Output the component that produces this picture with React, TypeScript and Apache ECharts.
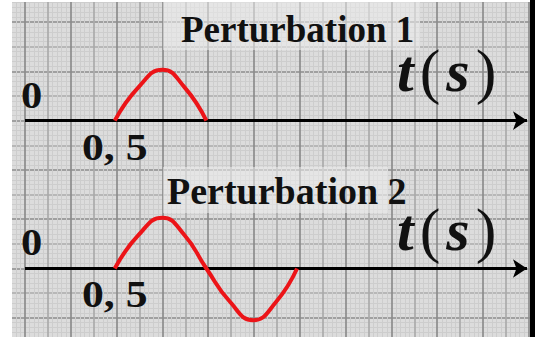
import React, { useEffect, useRef } from "react";
import * as echarts from "echarts";

// ---- data (time in seconds, amplitude in grid units) ----
const axisOffsets = [3, 0]; // vertical position of each perturbation's time axis
const axisEnd = 2.74;
const restEnd = 2.6;
const p1Times = [0.49, 0.62, 0.75, 0.87, 0.99];
const p1Values = [0, 0.68, 1.03, 0.68, 0];
const p2Times = [0.49, 0.62, 0.75, 0.87, 0.99, 1.12, 1.245, 1.37, 1.485];
const p2Values = [0, 0.68, 1.03, 0.68, 0, -0.68, -1.05, -0.68, 0];
const titles = ["Perturbation 1", "Perturbation 2"];
const originLabel = "0";
const tickLabel = "0, 5";

const CURVE = "#ec1418";
const MAROON = "#5e0c0c";

// the chart div is shifted so that the graph-paper grid extends past the page edges
const OX = 21;
const OY = 3;

function buildSeries(): any[] {
  const curves = [
    { t: p1Times, v: p1Values },
    { t: p2Times, v: p2Values },
  ];
  const out: any[] = [];
  curves.forEach((c, k) => {
    const o = axisOffsets[k];
    const start = c.t[0];
    const end = c.t[c.t.length - 1];
    out.push({
      type: "lines",
      coordinateSystem: "cartesian2d",
      z: 3,
      symbol: ["none", "arrow"],
      symbolSize: 14,
      lineStyle: { color: "#000", width: 3, opacity: 1 },
      data: [{ coords: [[0, o], [axisEnd, o]] }],
    });
    [[0, start], [end, restEnd]].forEach((seg) => {
      out.push({
        type: "line",
        z: 4,
        symbol: "none",
        lineStyle: {
          color: MAROON,
          width: 3.5,
          shadowColor: "rgba(240,110,110,0.55)",
          shadowOffsetY: 3,
          shadowBlur: 2,
        },
        data: seg.map((x) => [x, o]),
      });
    });
    out.push({
      type: "line",
      z: 5,
      smooth: 0.5,
      symbol: "none",
      lineStyle: { color: CURVE, width: 4 },
      data: c.t.map((x, i) => [x, c.v[i] + o]),
    });
  });
  return out;
}

function App() {
  const ref = useRef<HTMLDivElement>(null);
  useEffect(() => {
    if (!ref.current) return;
    const chart = echarts.init(ref.current, null, { renderer: "svg" });
    const serif = "'Liberation Serif', 'Times New Roman', serif";
    const txt = (text: string, x: number, y: number, size: number, sx = 1) => ({
      type: "text",
      x: x + OX,
      y: y + OY,
      scaleX: sx,
      z: 100,
      style: {
        text,
        fontFamily: serif,
        fontWeight: "bold",
        fontSize: size,
        lineHeight: Math.round(size * 0.75),
        fill: "#111",
        verticalAlign: "middle",
        align: "left",
      },
    });
    const letter = { fontFamily: serif, fontStyle: "italic", fontWeight: "bold", fontSize: 60, lineHeight: 44, fill: "#111", padding: [0, 3, 0, 3] };
    const paren = { fontFamily: serif, fontWeight: "normal", fontSize: 62, lineHeight: 44, fill: "#111", padding: [0, 3, 0, 3] };
    const unit = (x: number, y: number) => ({
      type: "text",
      x: x + OX,
      y: y + OY,
      z: 100,
      style: {
        text: "{t|t}{p|(}{t|s}{p|)}",
        verticalAlign: "middle",
        align: "left",
        rich: { t: letter, p: paren },
      },
    });
    const rect = (x: number, y: number, w: number, h: number, fill: string, z: number) => ({
      type: "rect",
      z,
      shape: { x: x + OX, y: y + OY, width: w, height: h },
      style: { fill },
    });
    chart.setOption({
      animation: false,
      backgroundColor: "#dcdcdc",
      grid: { left: 0.2, right: 0.3, top: 0.35, bottom: 0.55, containLabel: false },
      xAxis: {
        type: "value",
        min: -0.25,
        max: 2.875,
        interval: 0.125,
        axisLine: { show: false },
        axisTick: { show: false },
        axisLabel: { show: false },
        splitLine: { show: true, lineStyle: { color: ["#8c8c8c", "#ababab"], width: 1.7 } },
        minorTick: { show: false, splitNumber: 5 },
        minorSplitLine: { show: true, lineStyle: { color: "#cdcdcd", width: 1 } },
      },
      yAxis: {
        type: "value",
        min: -1.5,
        max: 5.5,
        interval: 0.5,
        axisLine: { show: false },
        axisTick: { show: false },
        axisLabel: { show: false },
        splitLine: { show: true, lineStyle: { color: ["#ababab", "#8c8c8c"], width: 1.7 } },
        minorTick: { show: false, splitNumber: 5 },
        minorSplitLine: { show: true, lineStyle: { color: "#cdcdcd", width: 1 } },
      },
      series: buildSeries(),
      graphic: [
        rect(163, 2, 257, 48, "rgba(236,236,236,0.55)", 90),
        rect(163, 167, 225, 46, "rgba(236,236,236,0.55)", 90),
        txt(titles[0], 181, 29, 37),
        txt(titles[1], 167, 191, 38),
        txt(originLabel, 21, 95, 38, 1.12),
        txt(originLabel, 21, 242, 38, 1.12),
        txt(tickLabel, 82, 147, 39, 1.12),
        txt(tickLabel, 82, 294, 39, 1.12),
        unit(394, 71),
        unit(394, 230),
        rect(-OX, -OY, 12 + OX, 346, "#ffffff", 110),
        rect(-OX, -OY, 600, 2 + OY, "#ffffff", 110),
        rect(530, -OY, 60, 346, "#000000", 110),
      ],
    });
    return () => chart.dispose();
  }, []);
  return (
    <div
      ref={ref}
      style={{ position: "fixed", left: -OX, top: -OY, width: 573, height: 346 }}
    />
  );
}

export default App;
